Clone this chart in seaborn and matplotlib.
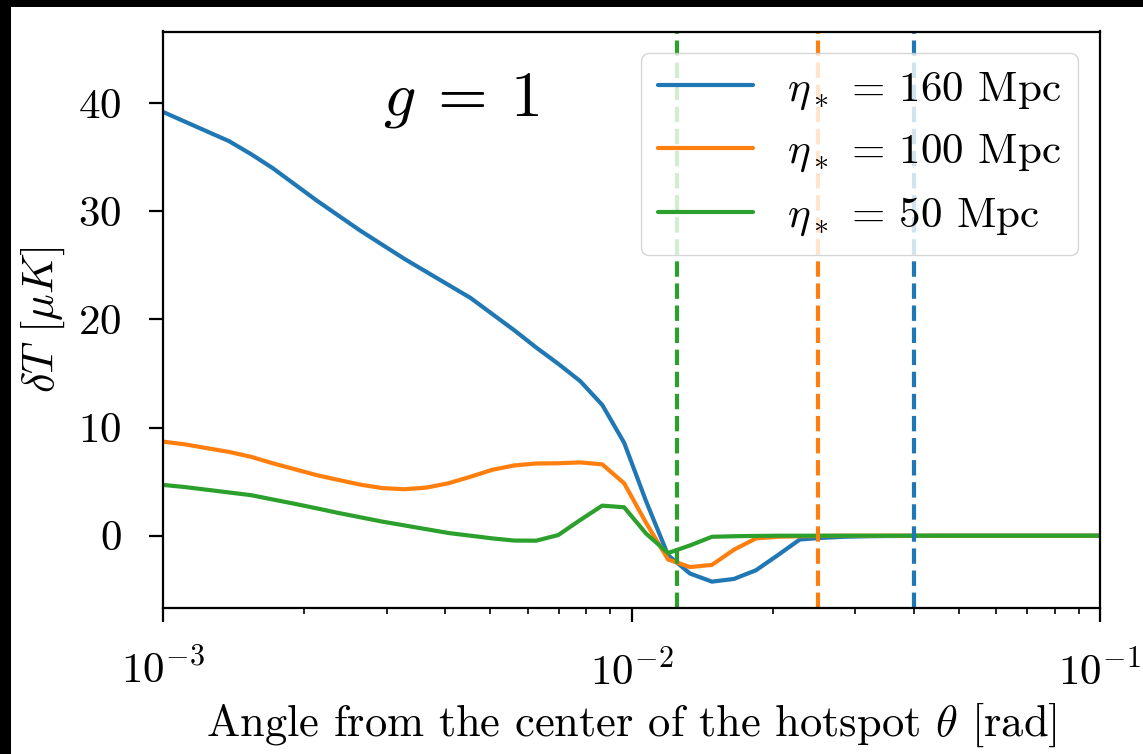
import numpy as np
import pandas as pd
import seaborn as sns
import matplotlib
matplotlib.use("Agg")
import matplotlib.pyplot as plt
from matplotlib.patches import Rectangle

# Angular sampling (rad)
theta = [
    0.001000, 0.001114, 0.001241, 0.001383, 0.001541, 0.001715, 0.001911, 0.002129,
    0.002371, 0.002641, 0.002942, 0.003278, 0.003651, 0.004067, 0.004531, 0.005047,
    0.005622, 0.006263, 0.006977, 0.007772, 0.008660, 0.009645, 0.01074, 0.01197,
    0.01333, 0.01485, 0.01654, 0.01843, 0.02053, 0.02287, 0.02547, 0.02838,
    0.03161, 0.03521, 0.03923, 0.04370, 0.04868, 0.05422, 0.06040, 0.06729,
    0.07496, 0.08350, 0.09301, 0.1036,
]

# Temperature profiles (micro-K) for each eta_*
dT_160 = [
    39.2, 38.3, 37.4, 36.5, 35.3, 34.0, 32.5, 31.0, 29.6, 28.2, 26.9, 25.6,
    24.4, 23.2, 22.0, 20.5, 19.0, 17.4, 15.9, 14.3, 12.1, 8.6, 3.2, -1.8,
    -3.5, -4.25, -4.0, -3.2, -1.8, -0.35, -0.2, -0.1, -0.05, -0.03, -0.02, -0.01,
    0.0, 0.0, 0.0, 0.0, 0.0, 0.0, 0.0, 0.0,
]
dT_100 = [
    8.7, 8.45, 8.1, 7.75, 7.3, 6.7, 6.15, 5.6, 5.15, 4.72, 4.4, 4.3,
    4.45, 4.85, 5.45, 6.1, 6.5, 6.68, 6.7, 6.78, 6.6, 4.85, 1.2, -2.2,
    -2.9, -2.7, -1.3, -0.25, -0.1, -0.05, -0.02, 0.0, 0.0, 0.0, 0.0, 0.0,
    0.0, 0.0, 0.0, 0.0, 0.0, 0.0, 0.0, 0.0,
]
dT_50 = [
    4.7, 4.5, 4.25, 4.0, 3.75, 3.35, 2.95, 2.53, 2.1, 1.7, 1.3, 0.95,
    0.6, 0.25, 0.0, -0.25, -0.45, -0.46, 0.06, 1.45, 2.78, 2.63, 0.2, -1.6,
    -0.9, -0.1, -0.05, -0.02, 0.0, 0.0, 0.0, 0.0, 0.0, 0.0, 0.0, 0.0,
    0.0, 0.0, 0.0, 0.0, 0.0, 0.0, 0.0, 0.0,
]

series_labels = [r"$\eta_*$ = 160 Mpc", r"$\eta_*$ = 100 Mpc", r"$\eta_*$ = 50 Mpc"]
series_colors = ["#1f77b4", "#ff7f0e", "#2ca02c"]
# Angular scale marked for each eta_*
theta_marks = [0.04, 0.025, 0.0125]

FS = 31
FS_LABEL = 32

sns.set_theme(style="ticks")
plt.rcParams.update({
    "font.family": "serif",
    "font.serif": ["cmr10", "DejaVu Serif"],
    "mathtext.fontset": "cm",
    "axes.unicode_minus": False,
    "axes.formatter.use_mathtext": True,
    "font.size": FS,
    "text.color": "black",
    "axes.labelcolor": "black",
    "xtick.color": "black",
    "ytick.color": "black",
    "axes.edgecolor": "black",
})

W, H, DPI = 1143, 754, 100
fig = plt.figure(figsize=(W / DPI, H / DPI), dpi=DPI)
fig.patch.set_facecolor("black")
fig.add_artist(Rectangle((11 / W, 0), 1 - 11 / W, 1 - 7 / H,
                         transform=fig.transFigure, facecolor="white",
                         edgecolor="none", zorder=-10))

ax = fig.add_axes([163 / W, 1 - 607.7 / H, (1100 - 163) / W, (607.7 - 31.5) / H])
ax.set_facecolor("white")

frames = []
for lab, vals in zip(series_labels, [dT_160, dT_100, dT_50]):
    frames.append(pd.DataFrame({"theta": theta, "dT": vals, "series": lab}))
df = pd.concat(frames, ignore_index=True)

sns.lineplot(data=df, x="theta", y="dT", hue="series", hue_order=series_labels,
             palette=series_colors, linewidth=3.0, ax=ax, sort=False)

for th, c in zip(theta_marks, series_colors):
    ax.axvline(th, color=c, linestyle="--", linewidth=3.0)

ax.set_xscale("log")
ax.set_xlim(1e-3, 1e-1)
ax.set_ylim(-6.66, 46.64)
ax.set_xticks([1e-3, 1e-2, 1e-1])
ax.set_xticklabels([r"$10^{-3}$", r"$10^{-2}$", r"$10^{-1}$"])
ax.set_yticks([0, 10, 20, 30, 40])

for s in ax.spines.values():
    s.set_linewidth(1.6)
    s.set_color("black")
ax.tick_params(axis="both", which="major", length=10, width=1.6, pad=20,
               labelsize=FS, color="black", labelcolor="black", direction="out")
ax.tick_params(axis="x", which="minor", length=4.5, width=1.2, color="black",
               direction="out")

ax.set_xlabel(r"Angle from the center of the hotspot $\theta$ [rad]",
              fontsize=FS_LABEL, labelpad=6, color="black")
ax.set_ylabel(r"$\delta T$ $[\mu K]$", fontsize=FS_LABEL, labelpad=8, color="black")

ax.text(0.318, 0.88, r"$g\:=\:1$", transform=ax.transAxes, fontsize=46,
        ha="center", va="center", color="black")

leg = ax.legend(loc="upper right", fontsize=FS, frameon=True, framealpha=0.8,
                fancybox=True, edgecolor="0.8", handlelength=2.2,
                handletextpad=0.8, borderpad=0.4, labelspacing=0.5,
                borderaxespad=0.5)
for line in leg.get_lines():
    line.set_linewidth(3.0)
for t in leg.get_texts():
    t.set_color("black")

fig.savefig("out.png", dpi=DPI, facecolor=fig.get_facecolor())
